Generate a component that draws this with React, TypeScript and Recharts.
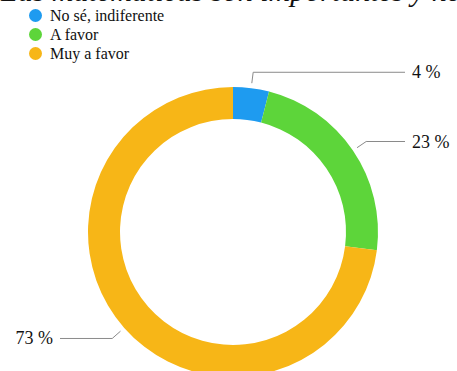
import React from 'react';
import { PieChart, Pie, Cell } from 'recharts';

const categories = ['No sé, indiferente', 'A favor', 'Muy a favor'];
const values = [4, 23, 73];
const colors = ['#1E9BF0', '#5DD53A', '#F7B617'];
const title = 'Las matemáticas son importantes y necesarias';

const data = categories.map((name, i) => ({ name, value: values[i] }));

const RAD = Math.PI / 180;

const renderLabel = (props: any) => {
  const { cx, cy, midAngle, outerRadius, value } = props;
  const cos = Math.cos(-midAngle * RAD);
  const sin = Math.sin(-midAngle * RAD);
  const sx = cx + (outerRadius + 5) * cos;
  const sy = cy + (outerRadius + 5) * sin;
  const mx = cx + (outerRadius + 16) * cos;
  const my = cy + (outerRadius + 16) * sin;
  const right = cos >= 0;
  const ex = right ? 405 : 60;
  const tx = right ? 412 : 53;
  return (
    <g>
      <polyline
        points={`${sx},${sy} ${mx},${my} ${ex},${my}`}
        fill="none"
        stroke="#8a8a8a"
        strokeWidth={1}
      />
      <text
        x={tx}
        y={my}
        dy={6}
        textAnchor={right ? 'start' : 'end'}
        fill="#111"
        fontSize={18}
        fontFamily="'Liberation Serif', serif"
      >
        {`${value} %`}
      </text>
    </g>
  );
};

export default function App() {
  return (
    <div
      style={{
        position: 'absolute',
        left: 0,
        top: 0,
        width: 457,
        height: 371,
        overflow: 'hidden',
        background: '#fff',
      }}
    >
      <div
        style={{
          position: 'absolute',
          left: 1,
          top: -26,
          whiteSpace: 'nowrap',
          fontFamily: "'Liberation Serif', serif",
          fontStyle: 'italic',
          fontSize: 30,
          lineHeight: '34px',
          color: '#111',
        }}
      >
        {title}
      </div>
      {/* legend */}
      <div style={{ position: 'absolute', left: 29, top: 6 }}>
        {data.map((d, i) => (
          <div
            key={d.name}
            style={{ display: 'flex', alignItems: 'center', height: 19 }}
          >
            <span
              style={{
                display: 'inline-block',
                width: 13,
                height: 13,
                borderRadius: '50%',
                background: colors[i],
                marginRight: 8,
              }}
            />
            <span
              style={{
                fontFamily: "'Liberation Serif', serif",
                fontSize: 16,
                color: '#111',
              }}
            >
              {d.name}
            </span>
          </div>
        ))}
      </div>
      <PieChart
        width={457}
        height={371}
        margin={{ top: 0, right: 0, bottom: 0, left: 0 }}
        style={{ position: 'absolute', left: 0, top: 0 }}
      >
        <Pie
          data={data}
          dataKey="value"
          nameKey="name"
          cx={233}
          cy={232}
          innerRadius={113}
          outerRadius={145}
          startAngle={90}
          endAngle={-270}
          stroke="none"
          label={renderLabel}
          labelLine={false}
          isAnimationActive={false}
        >
          {data.map((d, i) => (
            <Cell key={d.name} fill={colors[i]} />
          ))}
        </Pie>
      </PieChart>
    </div>
  );
}
